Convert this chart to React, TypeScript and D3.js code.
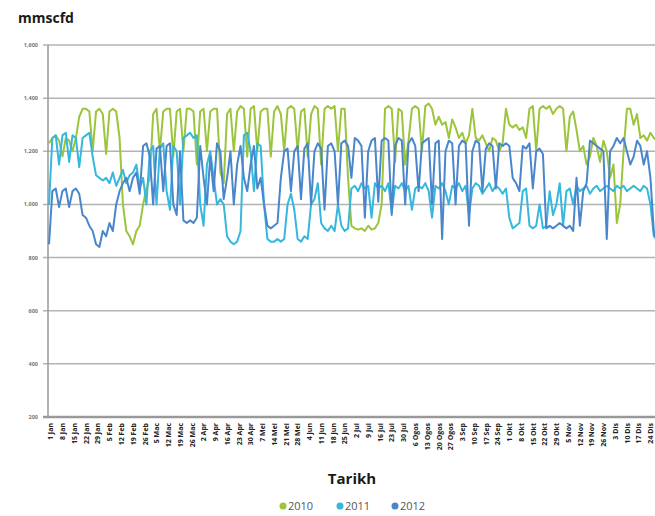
import React from "react";
import * as d3 from "d3";

const yTicks = [200, 400, 600, 800, 1000, 1200, 1400, 1600];
const weekLabels = [
  "1 Jan","8 Jan","15 Jan","22 Jan","29 Jan","5 Feb","12 Feb","19 Feb","26 Feb",
  "5 Mac","12 Mac","19 Mac","26 Mac","2 Apr","9 Apr","16 Apr","23 Apr","30 Apr",
  "7 Mei","14 Mei","21 Mei","28 Mei","4 Jun","11 Jun","18 Jun","25 Jun",
  "2 Jul","9 Jul","16 Jul","23 Jul","30 Jul","6 Ogos","13 Ogos","20 Ogos","27 Ogos",
  "3 Sep","10 Sep","17 Sep","24 Sep","1 Okt","8 Okt","15 Okt","22 Okt","29 Okt",
  "5 Nov","12 Nov","19 Nov","26 Nov","3 Dis","10 Dis","17 Dis","24 Dis"
];
const seriesNames = ["2010", "2011", "2012"];
const seriesColors = ["#9cc43c", "#36b7dd", "#4a86cc"];

// values every 2 days, starting 1 Jan
const s2010 = [
  1230,1250,1260,1240,1180,1250,1240,1200,1250,
  1330,1360,1360,1350,1200,1350,1360,1340,1190,1350,1360,1350,
  1250,1000,900,880,850,900,920,1000,1060,1100,
  1340,1360,1200,1350,1360,1360,1180,1350,1360,1200,1360,1360,1350,1150,1350,1360,1200,1350,1360,1360,1120,1080,1340,1360,1200,1350,1370,1360,1180,
  1360,1370,1200,1350,1360,1360,1180,1350,1370,1340,1200,1360,1370,1360,1200,1350,1360,1180,1340,1370,1360,1150,1360,1370,1360,
  1370,1200,1360,1360,
  1100,920,910,905,910,900,920,905,910,930,1000,
  1360,1370,1360,1160,1360,1350,1150,1240,1360,1370,1360,1200,1370,1380,1360,1300,
  1330,1300,1310,1250,1320,1290,1250,1270,1230,1260,
  1360,1250,1240,1260,1230,1200,1250,1240,1200,1230,
  1360,1300,1290,1300,1280,
  1290,1250,1360,1370,1200,1360,1370,1360,
  1370,1340,1360,1370,1360,1200,1330,1350,1280,1200,
  1220,1150,1180,1250,1220,1160,1240,1200,1100,1150,
  930,1000,1200,
  1360,1360,1300,1340,1250,1260,1240,1270,1250,1240,1250
];
const s2011 = [
  1000,1250,1260,1150,1260,1270,1160,1260,1250,1140,1250,1260,1270,1180,1110,1100,1090,1100,1080,1120,
  1070,1100,1130,1080,1110,1120,1150,1060,1100,1000,1200,1220,1000,1210,1230,1050,980,1220,1200,1000,
  1250,1260,1270,1250,1260,1000,920,1150,1200,1100,1000,1020,1000,880,860,850,860,900,1260,1270,
  1200,1050,1230,1220,1000,870,860,860,870,860,870,1000,1040,980,870,860,880,870,1000,1020,
  1080,930,910,900,920,900,1000,920,900,910,1060,1070,1050,1080,1060,1070,950,1080,1060,1070,
  1050,1080,970,1070,1060,1080,1050,1070,980,1060,1070,1060,1080,1050,950,1070,1060,1080,1050,1000,
  1070,1060,1080,1050,1070,960,1060,1080,1070,1040,1060,1080,1050,1070,1060,1040,1060,950,910,920,
  930,1050,1060,920,910,920,1000,910,920,1050,960,1000,1080,920,1050,1060,1000,1070,1050,1060,
  1070,1040,1060,1070,1050,1060,1070,1060,1050,1070,1060,1070,1050,1060,1070,1060,1050,1070,1060,1000,
  880,870,880
];
const s2012 = [
  850,1050,1060,990,1050,1060,990,1050,1060,1040,960,950,920,900,850,840,900,880,930,900,
  1000,1050,1080,1100,1050,1100,1120,1040,1220,1230,1180,1000,1210,1220,1050,1220,1230,1000,960,1200,
  940,930,940,930,950,1220,1100,1000,1180,1050,1230,1200,1020,1100,1200,1000,1150,1220,1100,1050,
  1150,1220,1060,1100,1000,920,910,920,930,1100,1200,1210,1050,1200,1220,1020,1210,1230,1000,1200,
  1230,1210,980,1220,1230,1200,1000,1230,1240,1220,1100,1250,1240,1220,950,1200,1240,1250,1010,1240,
  1250,1240,960,1220,1250,1240,1000,1230,1250,1220,1050,1230,1240,1250,1000,1230,1240,870,1200,1240,
  1230,1000,1220,1240,1230,920,1200,1240,1230,1050,1210,1230,1220,1060,1230,1220,1230,1220,1100,1080,
  1050,1220,1210,1230,1060,1200,1210,1190,910,920,910,920,930,920,910,920,900,1100,920,1050,
  1080,1240,1230,1220,1210,1200,870,1200,1220,1250,1230,1250,1200,1150,1180,1240,1220,1150,1200,1100,
  900,850,860
];
const allSeries = [s2010, s2011, s2012];

const W = 655;
const H = 516;
const plotLeft = 48;
const plotTop = 45;
const plotBottom = 417;
const plotRight = 655;

export default function App() {
  const x = d3.scaleLinear().domain([0, 364]).range([49, 49 + 364 * 1.68]);
  const y = d3.scaleLinear().domain([200, 1600]).range([plotBottom, plotTop]);
  const line = d3
    .line<number>()
    .x((_, i) => x(i * 2))
    .y((d) => y(d));

  const legendX = [283, 340, 395];

  return (
    <svg
      width={W}
      height={H}
      style={{ position: "absolute", left: 0, top: 0, background: "#fff" }}
      fontFamily="'Open Sans', 'DejaVu Sans', sans-serif"
    >
      <defs>
        <clipPath id="plotClip">
          <rect x={plotLeft} y={plotTop - 5} width={plotRight - plotLeft} height={plotBottom - plotTop + 10} />
        </clipPath>
      </defs>
      <text x={18} y={23} fontSize={14} fontWeight={700} fill="#1a1a1a">
        mmscfd
      </text>
      {yTicks.map((t) => (
        <g key={t}>
          <line
            x1={plotLeft - 5}
            x2={plotRight}
            y1={y(t)}
            y2={y(t)}
            stroke={t === 200 ? "#999" : "#b3b3b3"}
            strokeWidth={t === 200 ? 2.5 : 1.5}
          />
          <text
            x={38}
            y={y(t) + 2}
            fontSize={5.5}
            fontWeight={700}
            fill="#777"
            textAnchor="end"
          >
            {d3.format(",")(t)}
          </text>
        </g>
      ))}
      <line x1={plotLeft} x2={plotLeft} y1={plotTop} y2={plotBottom} stroke="#999" strokeWidth={1.5} />
      <g clipPath="url(#plotClip)">
        {allSeries.map((s, k) => (
          <path
            key={k}
            d={line(s) || ""}
            fill="none"
            stroke={seriesColors[k]}
            strokeWidth={2}
            strokeLinejoin="round"
          />
        ))}
      </g>
      {weekLabels.map((lab, i) => {
        const px = x(i * 7) + 2;
        return (
          <text
            key={lab}
            transform={`translate(${px},${423}) rotate(-90)`}
            fontSize={7}
            fontWeight={700}
            fill="#222"
            textAnchor="end"
            dy="0.35em"
          >
            {lab}
          </text>
        );
      })}
      <text x={352} y={484} fontSize={15} fontWeight={700} fill="#1a1a1a" textAnchor="middle">
        Tarikh
      </text>
      {seriesNames.map((n, k) => (
        <g key={n}>
          <circle cx={legendX[k]} cy={506} r={3.5} fill={seriesColors[k]} />
          <text x={legendX[k] + 5} y={510} fontSize={11} fill="#555">
            {n}
          </text>
        </g>
      ))}
    </svg>
  );
}
